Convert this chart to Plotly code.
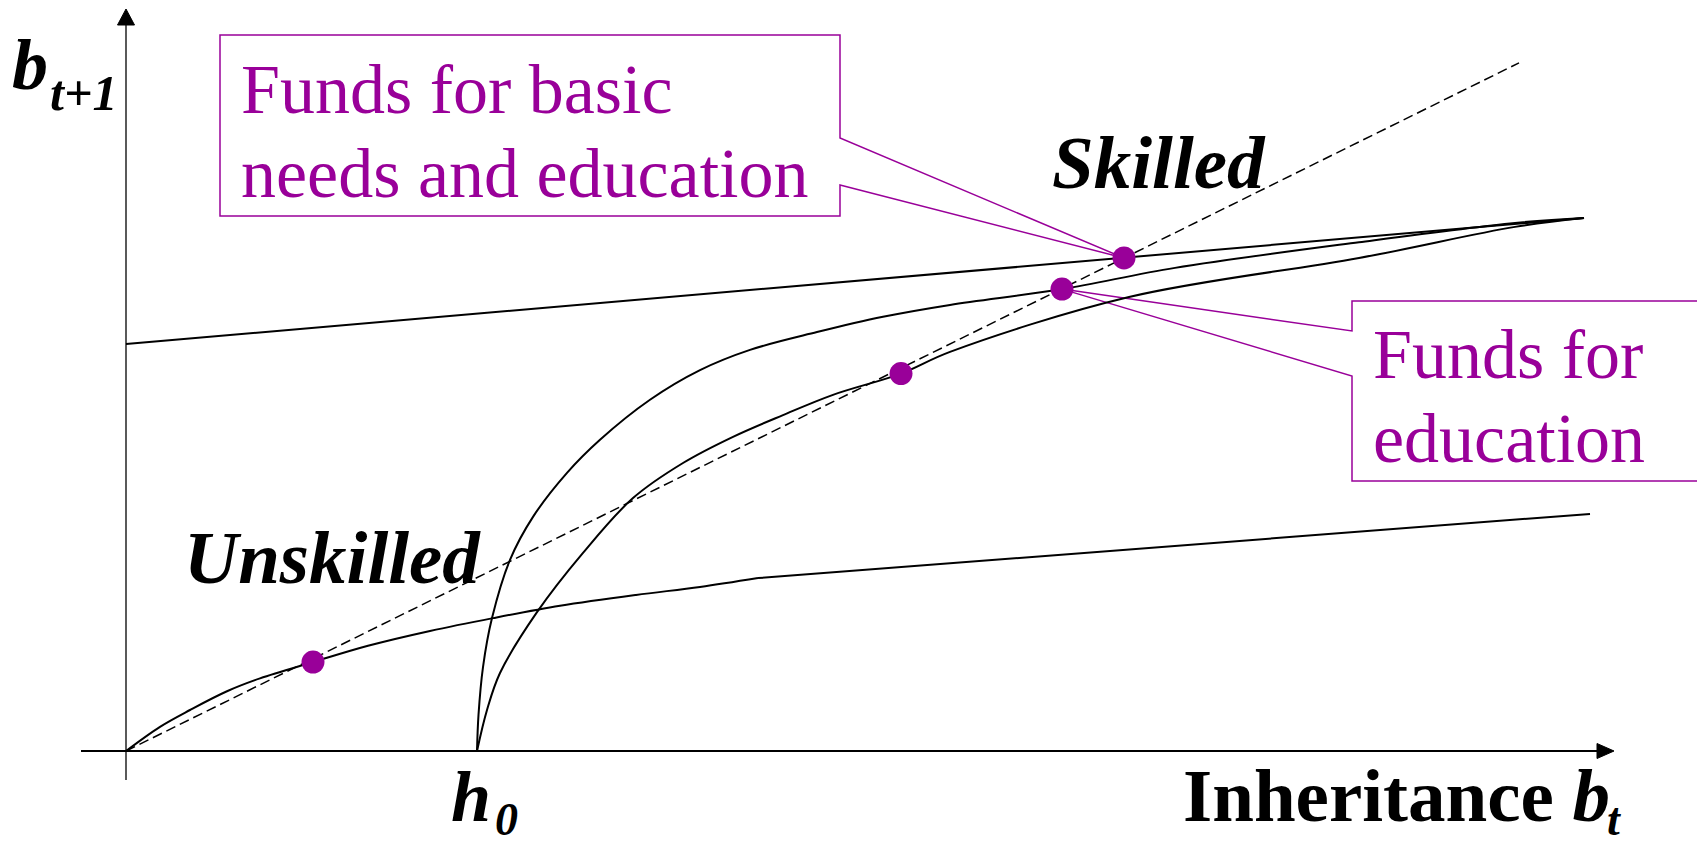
import plotly.graph_objects as go

# units: x = b_t, y = b_t+1 (45 degree line is y = x)
diag_x = [0, 13.93]
diag_y = [0, 13.93]

top_x = [0, 14.58]
top_y = [8.24, 10.79]

unsk_x = [0, 0.34, 0.64, 1.01, 1.34, 1.87, 2.42, 3.04, 3.67, 4.34, 5.10, 5.74, 6.32]
unsk_y = [0, 0.49, 0.83, 1.21, 1.47, 1.80, 2.13, 2.43, 2.69, 2.94, 3.16, 3.32, 3.50]
unsk_tail_x = [6.32, 14.64]
unsk_tail_y = [3.50, 4.80]

steep_x = [3.51, 3.525, 3.57, 3.66, 3.84, 4.07, 4.41, 4.74, 5.24, 5.74, 6.24, 6.91, 7.57, 8.24, 9.36, 10.49, 12.33, 13.89, 14.58]
steep_y = [0, 0.73, 1.70, 2.69, 3.87, 4.74, 5.63, 6.30, 7.11, 7.71, 8.12, 8.48, 8.79, 9.03, 9.35, 9.78, 10.30, 10.69, 10.79]

slow_x = [3.51, 3.61, 3.74, 4.11, 4.57, 5.07, 5.57, 6.07, 6.57, 7.07, 7.75, 8.24, 10.03, 12.33, 13.89, 14.58]
slow_y = [0, 0.83, 1.58, 2.81, 4.01, 5.12, 5.83, 6.36, 6.80, 7.21, 7.64, 8.08, 9.19, 9.98, 10.61, 10.79]

eq_x = [1.87, 7.75, 9.36, 9.98]
eq_y = [1.80, 7.64, 9.35, 9.98]

PURPLE = '#990099'
SERIF = 'Liberation Serif, Times New Roman, serif'
OFF = 8  # page body margin

# window pixel -> data helpers for placing labels, boxes and axis arrows
def px_x(p):
    return (p - 126) / 100.0

def px_y(p):
    return (751 - p) / 49.4

def pt(px, py):
    return '%.4f,%.4f' % (px_x(px), px_y(py))

def dpt(x, y):
    return '%.4f,%.4f' % (x, y)

fig = go.Figure()
line_k = dict(color='black', width=2)
fig.add_trace(go.Scatter(x=diag_x, y=diag_y, mode='lines',
                         line=dict(color='black', width=1.5, dash='10px,5px')))
fig.add_trace(go.Scatter(x=top_x, y=top_y, mode='lines', line=line_k))
fig.add_trace(go.Scatter(x=unsk_x, y=unsk_y, mode='lines', line=dict(color='black', width=2, shape='spline')))
fig.add_trace(go.Scatter(x=unsk_tail_x, y=unsk_tail_y, mode='lines', line=line_k))
fig.add_trace(go.Scatter(x=steep_x, y=steep_y, mode='lines', line=dict(color='black', width=2, shape='spline')))
fig.add_trace(go.Scatter(x=slow_x, y=slow_y, mode='lines', line=dict(color='black', width=2, shape='spline')))
fig.add_trace(go.Scatter(x=eq_x, y=eq_y, mode='markers', marker=dict(color=PURPLE, size=23)))

# axes with arrow heads
fig.add_shape(type='line', xref='x', yref='y', x0=px_x(81), y0=0, x1=px_x(1600), y1=0,
              line=dict(color='black', width=2), layer='below')
fig.add_shape(type='path', xref='x', yref='y', layer='below',
              path='M ' + pt(1614, 751) + ' L ' + pt(1597, 743.5) + ' L ' + pt(1597, 758.5) + ' Z',
              fillcolor='black', line=dict(color='black', width=1))
fig.add_shape(type='line', xref='x', yref='y', x0=0, y0=px_y(780), x1=0, y1=px_y(22),
              line=dict(color='black', width=1.3), layer='below')
fig.add_shape(type='path', xref='x', yref='y', layer='below',
              path='M ' + pt(126, 9) + ' L ' + pt(117.5, 25) + ' L ' + pt(134.5, 25) + ' Z',
              fillcolor='black', line=dict(color='black', width=1))

# callout boxes
box1 = ('M ' + pt(220, 35) + ' L ' + pt(840, 35) + ' L ' + pt(840, 138) +
        ' L ' + dpt(eq_x[3], eq_y[3]) + ' L ' + pt(840, 185) + ' L ' + pt(840, 216) +
        ' L ' + pt(220, 216) + ' Z')
box2 = ('M ' + pt(1352, 301) + ' L ' + pt(1700, 301) + ' L ' + pt(1700, 481) +
        ' L ' + pt(1352, 481) + ' L ' + pt(1352, 376) + ' L ' + dpt(eq_x[2], eq_y[2]) +
        ' L ' + pt(1352, 331) + ' Z')
for p in [box1, box2]:
    fig.add_shape(type='path', path=p, xref='x', yref='y', layer='below',
                  line=dict(color=PURPLE, width=1.5), fillcolor='white')

anns = []

def label(text, left, base, size, color='black'):
    anns.append(dict(x=px_x(left), y=px_y(base - 0.3375 * size), xref='x', yref='y',
                     xanchor='left', yanchor='middle', showarrow=False, text=text,
                     borderpad=0, borderwidth=0,
                     font=dict(family=SERIF, size=size, color=color)))

label('<b><i>Skilled</i></b>', 1052, 188, 75)
label('<b><i>Unskilled</i></b>', 184, 583, 75)
label('<b><i>b</i></b>', 12, 89, 72)
label('<b><i>t+1</i></b>', 50, 110, 50)
label('<b><i>h</i></b>', 451, 821, 72)
label('<b><i>0</i></b>', 495, 835, 46)
label('<b>Inheritance <i>b</i></b>', 1183, 821, 75)
label('<b><i>t</i></b>', 1607, 835, 46)
label('Funds for basic', 241, 113, 70, PURPLE)
label('needs and education', 241, 197, 70, PURPLE)
label('Funds for', 1373, 378, 70, PURPLE)
label('education', 1373, 462, 70, PURPLE)

fig.update_layout(
    width=1705, height=845,
    margin=dict(l=0, r=0, t=0, b=0),
    paper_bgcolor='white', plot_bgcolor='white',
    showlegend=False,
    xaxis=dict(range=[px_x(OFF), px_x(OFF + 1705)], visible=False),
    yaxis=dict(range=[px_y(OFF + 845), px_y(OFF)], visible=False),
    annotations=anns,
)
fig.write_html("out.html")
